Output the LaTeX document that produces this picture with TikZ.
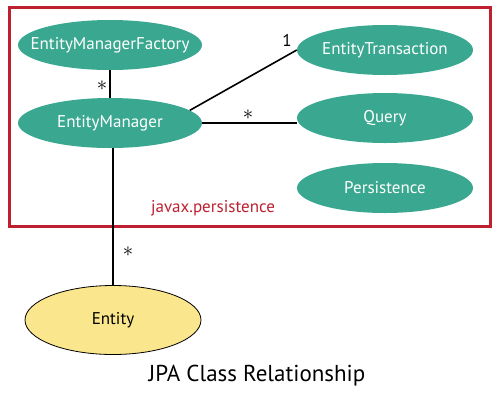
\documentclass[tikz,border=0pt]{standalone}
\usepackage{fontspec}
\setmainfont{PT Sans}
\usetikzlibrary{shapes.geometric}
\definecolor{teal1}{RGB}{58,168,144}
\definecolor{boxred}{RGB}{190,32,48}
\definecolor{entyel}{RGB}{250,230,140}
\newcommand{\zw}[1]{\makebox[0pt]{#1}}
\tikzset{
  cls/.style={ellipse, fill=teal1, text=white, inner sep=0pt, minimum width=184pt, minimum height=50pt, font=\fontsize{17}{20}\selectfont},
  conn/.style={line width=1.6pt, black},
  mult/.style={font=\fontsize{17}{19}\selectfont, inner sep=0pt},
  star/.style={font=\fontsize{22}{24}\selectfont, inner sep=0pt},
}
\begin{document}
\begin{tikzpicture}[x=1pt,y=-1pt]
\useasboundingbox (0,0) rectangle (500,400);
\fill[white] (0,0) rectangle (500,400);
\draw[boxred, line width=3pt] (9,7) rectangle (490,226);
\node[cls] (emf) at (110,45) {\zw{EntityManagerFactory}};
\node[cls] (em) at (110,123) {\zw{EntityManager}};
\node[cls, minimum width=176pt] (et) at (385,50) {\zw{EntityTransaction}};
\node[cls, minimum width=176pt] (q) at (385,118) {\zw{Query}};
\node[cls, minimum width=176pt] (p) at (385,188) {\zw{Persistence}};
\node[ellipse, fill=entyel, draw=black, line width=0.8pt, minimum width=176pt, minimum height=69pt, inner sep=0pt, font=\fontsize{17}{20}\selectfont] (ent) at (113,320) {\zw{Entity}};
\node[text=boxred, font=\fontsize{17}{20}\selectfont, inner sep=0pt] (pkg) at (213,208) {javax.persistence};
\node[font=\fontsize{23}{27}\selectfont, inner sep=0pt] (title) at (257,376) {JPA Class Relationship};
\draw[conn] (emf.south) -- (em.north);
\draw[conn] (em.9) -- (et.west);
\draw[conn] (em.east) -- (em.east -| q.west);
\draw[conn] (em.south -| ent.north) -- (ent.north);
\node[star] (m1) at (102,86) {$\ast$};
\node[mult] (m2) at (287,40) {1};
\node[star] (m3) at (248,115) {$\ast$};
\node[star] (m4) at (128,252) {$\ast$};
\end{tikzpicture}
\end{document}
